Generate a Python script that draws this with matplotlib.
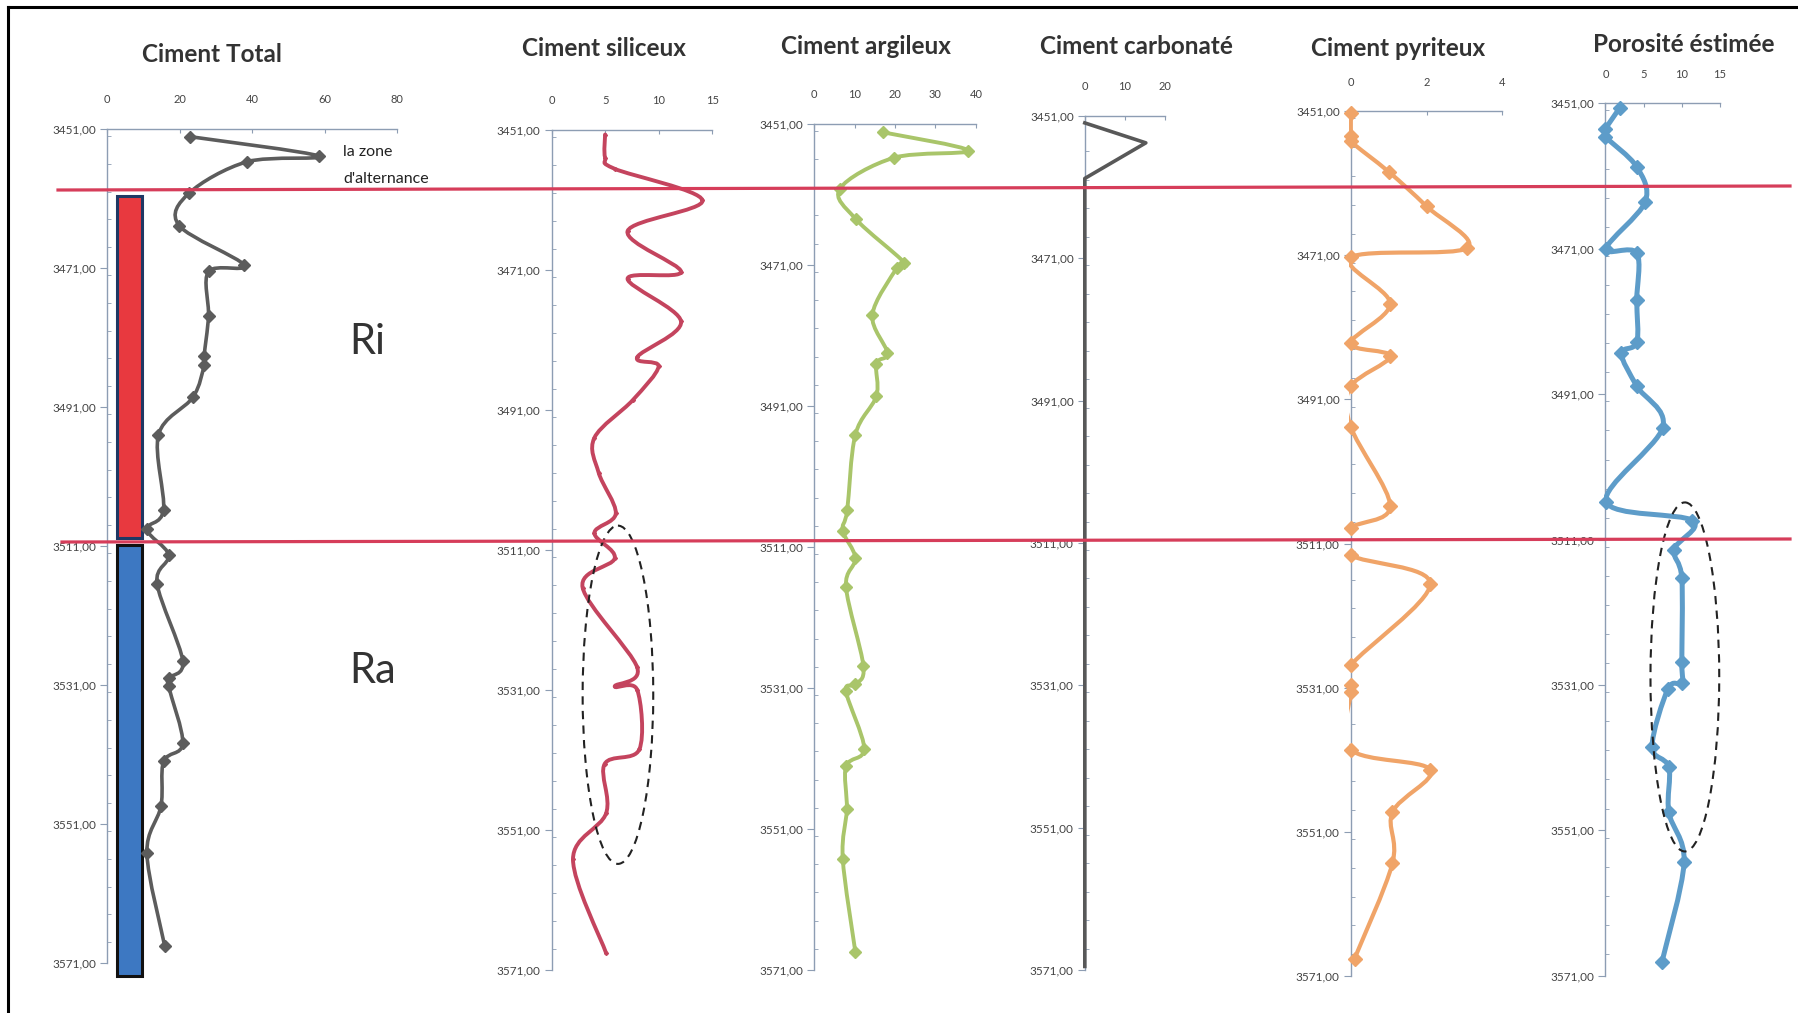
import numpy as np
import matplotlib
matplotlib.use("Agg")
import matplotlib.pyplot as plt
from matplotlib.path import Path
from matplotlib.patches import PathPatch, Ellipse, Rectangle
from matplotlib.lines import Line2D
from matplotlib.ticker import FixedLocator, FuncFormatter, MultipleLocator
from matplotlib import font_manager

# ---------------- data ----------------
depth_ticks = [3451, 3471, 3491, 3511, 3531, 3551, 3571]

total_depth = [3452.1, 3454.9, 3455.7, 3460.2, 3464.9, 3470.6, 3471.5, 3477.9, 3483.6, 3485.0, 3489.6, 3495.0,
               3505.8, 3508.6, 3512.3, 3516.4, 3527.5, 3530.0, 3531.2, 3539.4, 3542.0, 3548.4, 3555.2, 3568.5]
total_val = [22.9, 58.5, 38.7, 22.7, 19.9, 37.9, 28.0, 28.0, 26.8, 26.8, 23.7, 14.2,
             15.6, 11.0, 17.0, 13.8, 20.9, 17.0, 17.0, 20.9, 15.6, 14.9, 11.0, 15.9]

silic_depth = [3451.7, 3455.0, 3456.6, 3461.1, 3465.5, 3471.3, 3472.3, 3478.4, 3483.5, 3484.8, 3489.6, 3495.0,
               3500.0, 3505.8, 3508.6, 3512.2, 3516.4, 3527.8, 3530.5, 3531.0, 3539.5, 3541.6, 3548.6, 3555.2, 3568.6]
silic_val = [5.0, 5.0, 5.9, 14.1, 7.1, 12.1, 7.1, 12.1, 8.0, 10.0, 7.6, 4.0,
             4.4, 6.0, 4.0, 5.9, 2.9, 8.0, 5.9, 8.0, 8.2, 4.95, 5.1, 2.0, 5.1]

argil_depth = [3452.2, 3454.8, 3455.8, 3460.2, 3464.5, 3470.7, 3471.5, 3478.1, 3483.5, 3485.0, 3489.6, 3495.1,
               3505.8, 3508.7, 3512.6, 3516.7, 3527.9, 3530.5, 3531.5, 3539.6, 3542.1, 3548.2, 3555.2, 3568.4]
argil_val = [17.0, 38.1, 19.8, 6.4, 10.3, 22.3, 20.4, 14.4, 18.1, 15.4, 15.4, 10.2,
             8.2, 7.1, 10.2, 7.9, 12.2, 10.2, 7.9, 12.4, 7.9, 8.1, 7.1, 10.2]

carb_depth = [3452.0, 3454.8, 3459.8, 3464.9, 3470.6, 3471.5, 3477.9, 3483.6, 3485.0, 3489.6, 3495.0,
              3505.8, 3508.6, 3512.3, 3516.4, 3527.5, 3530.0, 3531.2, 3539.4, 3542.0, 3548.4, 3555.2, 3570.5]
carb_val = [0, 15.2, 0, 0, 0, 0, 0, 0, 0, 0, 0,
            0, 0, 0, 0, 0, 0, 0, 0, 0, 0, 0, 0]

pyr_depth = [3451.2, 3454.4, 3455.2, 3459.4, 3464.2, 3470.0, 3471.3, 3477.7, 3483.2, 3485.0, 3489.2, 3494.8,
             3505.8, 3508.9, 3512.6, 3516.6, 3527.9, 3530.7, 3531.6, 3539.6, 3542.4, 3548.3, 3555.4, 3568.6]
pyr_val = [0, 0, 0, 1.0, 2.0, 3.07, 0, 1.04, 0, 1.04, 0, 0,
           1.04, 0, 0, 2.1, 0, 0, 0, 0, 2.1, 1.1, 1.1, 0.1]

poro_depth = [3451.6, 3454.6, 3455.6, 3459.75, 3464.6, 3471.0, 3471.6, 3478.1, 3483.9, 3485.4, 3489.9, 3495.6,
              3505.8, 3508.4, 3512.4, 3516.3, 3527.9, 3530.7, 3531.5, 3539.5, 3542.3, 3548.5, 3555.4, 3569.1]
poro_val = [1.9, 0, 0, 4.1, 5.2, 0.1, 4.1, 4.1, 4.1, 2.1, 4.1, 7.5,
            0.1, 11.4, 9.0, 10.0, 10.0, 10.0, 8.2, 6.1, 8.3, 8.3, 10.3, 7.4]

zone_names = ["Ri", "Ra"]
zone_top = [3460.6, 3510.9]
zone_bottom = [3509.9, 3572.9]

titles = ["Ciment Total", "Ciment siliceux", "Ciment argileux", "Ciment carbonaté",
          "Ciment pyriteux", "Porosité éstimée"]
xmaxes = [80, 15, 40, 20, 4, 15]
xtick_lists = [[0, 20, 40, 60, 80], [0, 5, 10, 15], [0, 10, 20, 30, 40], [0, 10, 20], [0, 2, 4], [0, 5, 10, 15]]

# ---------------- layout / style ----------------
W, H = 1798, 1013
names = {f.name for f in font_manager.fontManager.ttflist}
NARROW = "Liberation Sans Narrow" if "Liberation Sans Narrow" in names else "Lato"

# (x0px, x1px, ytop_px, ybot_px)
boxes = [(107, 397, 129, 963), (551.6, 712.1, 129.6, 970), (814, 976, 123.8, 970),
         (1084.8, 1165.1, 115.8, 970), (1350.8, 1502.2, 111.2, 975.8), (1605.4, 1720, 103.2, 975.8)]
title_pos = [(212, 54), (604, 48), (866, 47), (1136, 46), (1398, 48), (1684, 44)]
colors = ["#5c5c5c", "#c4445e", "#a9c56a", "#585858", "#f0a468", "#5d9cc9"]
lws = [2.6, 2.8, 2.8, 2.6, 3.0, 3.6]
msizes = [6, 2, 6, 0, 7, 7]
spine_col = "#8d9db3"

fig = plt.figure(figsize=(W / 100, H / 100), dpi=100)
fig.patch.set_facecolor("white")


def smooth_path(x, y, t=1 / 6):
    pts = np.column_stack([x, y]).astype(float)
    n = len(pts)
    verts = [pts[0]]
    codes = [Path.MOVETO]
    for i in range(n - 1):
        p0 = pts[i - 1] if i > 0 else pts[i]
        p1 = pts[i]
        p2 = pts[i + 1]
        p3 = pts[i + 2] if i + 2 < n else pts[i + 1]
        verts += [p1 + (p2 - p0) * t, p2 - (p3 - p1) * t, p2]
        codes += [Path.CURVE4] * 3
    return Path(verts, codes)


series = [(total_val, total_depth), (silic_val, silic_depth), (argil_val, argil_depth),
          (carb_val, carb_depth), (pyr_val, pyr_depth), (poro_val, poro_depth)]

axes = []
for i, (b, (xv, dv)) in enumerate(zip(boxes, series)):
    x0, x1, yt, yb = b
    ax = fig.add_axes([x0 / W, 1 - yb / H, (x1 - x0) / W, (yb - yt) / H])
    ax.set_facecolor("none")
    ax.set_xlim(0, xmaxes[i])
    ax.set_ylim(3571, 3451)
    for s in ["right", "bottom"]:
        ax.spines[s].set_visible(False)
    for s in ["left", "top"]:
        ax.spines[s].set_color(spine_col)
        ax.spines[s].set_linewidth(1.0)
    ax.xaxis.set_ticks_position("top")
    ax.set_xticks(xtick_lists[i])
    ax.tick_params(axis="x", direction="in", length=3, pad=17, labelsize=8, colors=spine_col,
                   labelcolor="#444444")
    ax.yaxis.set_major_locator(FixedLocator(depth_ticks))
    ax.yaxis.set_minor_locator(MultipleLocator(4))
    ax.yaxis.set_major_formatter(FuncFormatter(lambda v, p: f"{v:.2f}".replace(".", ",")))
    ax.tick_params(axis="y", which="major", direction="out", length=5, labelsize=8.5, colors=spine_col,
                   labelcolor="#444444", pad=3)
    ax.tick_params(axis="y", which="minor", direction="in", length=3, colors=spine_col)
    for lab in ax.get_xticklabels() + ax.get_yticklabels():
        lab.set_family(NARROW)
    col = colors[i]
    if i == 3:
        ax.plot(xv, dv, color=col, lw=lws[i], clip_on=False, zorder=3, solid_joinstyle="round")
    else:
        # clip region: slightly left of the zero axis, so smoothed curves don't bulge past it
        clip = Rectangle((-0.012 * xmaxes[i], 3430), xmaxes[i] * 3, 160, transform=ax.transData)
        patch = PathPatch(smooth_path(xv, dv), fill=False, edgecolor=col, lw=lws[i],
                          transform=ax.transData, zorder=3, capstyle="round", joinstyle="round")
        ax.add_patch(patch)
        patch.set_clip_path(clip)
        if msizes[i] > 0:
            ax.plot(xv, dv, linestyle="none", marker="D", ms=msizes[i], color=col,
                    clip_on=False, zorder=4)
    cx, cy = title_pos[i]
    fig.text(cx / W, 1 - cy / H, titles[i], ha="center", va="center", fontsize=17.5,
             fontweight="bold", family=NARROW, color="#333333")
    axes.append(ax)

# zone bars in first panel
ax0 = axes[0]
bar_fc = ["#e8393f", "#3d78c2"]
bar_ec = ["#1f3864", "#111111"]
for k in range(2):
    ax0.barh((zone_top[k] + zone_bottom[k]) / 2, 6.9, left=2.8, height=zone_bottom[k] - zone_top[k],
             color=bar_fc[k], edgecolor=bar_ec[k], linewidth=2.2, clip_on=False, zorder=2)

# zone labels
fig.text(367 / W, 1 - 342 / H, zone_names[0], ha="center", va="center", fontsize=30, family=NARROW, color="#333333")
fig.text(373 / W, 1 - 671 / H, zone_names[1], ha="center", va="center", fontsize=30, family=NARROW, color="#333333")
fig.text(343 / W, 1 - 152 / H, "la zone", ha="left", va="center", fontsize=11.5, family=NARROW, color="#222222")
fig.text(343 / W, 1 - 179 / H, "d'alternance", ha="left", va="center", fontsize=11.5, family=NARROW, color="#222222")

# ellipses (data coords)
axes[1].add_patch(Ellipse((6.2, 3531.7), 6.6, 48.3, fill=False, edgecolor="#222222", lw=1.5,
                          linestyle=(0, (4, 3)), clip_on=False, zorder=5))
axes[5].add_patch(Ellipse((10.4, 3529.9), 9.0, 48.0, fill=False, edgecolor="#222222", lw=1.5,
                          linestyle=(0, (4, 3)), clip_on=False, zorder=5))

# red boundary lines across the figure
for (xa, ya, xb, yb_) in [(58, 190, 1790, 186), (62, 542, 1790, 539)]:
    fig.add_artist(Line2D([xa / W, xb / W], [1 - ya / H, 1 - yb_ / H], color="#d63d5a", lw=2.3,
                          transform=fig.transFigure, zorder=10))

# outer frame (top and left)
fig.add_artist(Line2D([8 / W, 1], [1 - 7 / H, 1 - 7 / H], color="black", lw=2.2, transform=fig.transFigure))
fig.add_artist(Line2D([8 / W, 8 / W], [1 - 7 / H, 0], color="black", lw=2.2, transform=fig.transFigure))

fig.savefig("out.png", dpi=100, facecolor="white")
